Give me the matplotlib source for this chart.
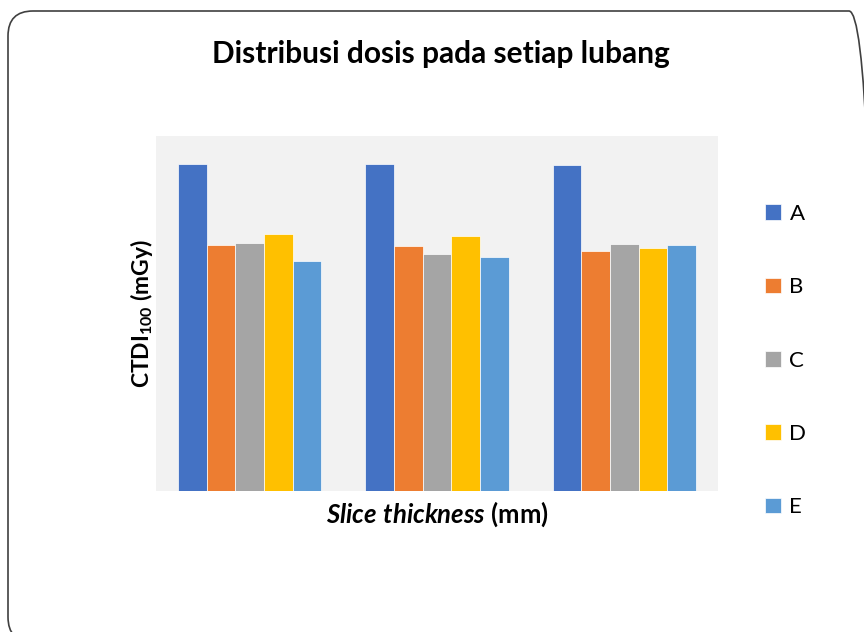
import numpy as np
import matplotlib
matplotlib.use("Agg")
import matplotlib.pyplot as plt
from matplotlib.patches import FancyBboxPatch
from matplotlib.transforms import IdentityTransform

plt.rcParams.update({
    "font.family": "Lato",
    "mathtext.fontset": "custom",
    "mathtext.rm": "Lato",
    "mathtext.bf": "Lato:bold",
    "mathtext.it": "Lato:italic",
    "mathtext.bfit": "Lato:italic:bold",
})

GROUPS = ["1", "2", "3"]  # slice thickness groups (no labels shown)
SERIES = ["A", "B", "C", "D", "E"]
A = [32.7, 32.7, 32.6]
B = [24.6, 24.5, 24.0]
C = [24.8, 23.7, 24.7]
D = [25.7, 25.5, 24.3]
E = [23.0, 23.4, 24.6]
VALUES = [A, B, C, D, E]

COLORS = ["#4472C4", "#ED7D31", "#A5A5A5", "#FFC000", "#5B9BD5"]

fig = plt.figure(figsize=(8.64, 6.32), dpi=100)
ax = fig.add_axes([156 / 864, 1 - 491 / 632, 562 / 864, 355 / 632])
ax.set_facecolor("#F2F2F2")

x = np.arange(len(GROUPS))
w = 0.153
for j, (name, vals) in enumerate(zip(SERIES, VALUES)):
    ax.bar(x + (j - 2) * w, vals, width=w, color=COLORS[j],
           edgecolor="white", linewidth=0.5, label=name)

ax.set_xlim(-0.5, 2.5)
ax.set_ylim(0, 35.5)
ax.set_xticks([])
ax.set_yticks([])
for s in ax.spines.values():
    s.set_visible(False)

ax.set_xlabel(r"$\mathbfit{Slice\ thickness}$ (mm)", fontsize=18.5,
              fontweight="bold", labelpad=6)
ax.set_ylabel(r"CTDI$_{\mathbf{100}}$ (mGy)", fontsize=16.5,
              fontweight="bold", labelpad=1)

fig.text(441 / 864, 1 - 54 / 632, "Distribusi dosis pada setiap lubang",
         fontsize=21.5, fontweight="bold", ha="center", va="center")

handles, labels = ax.get_legend_handles_labels()
fig.legend(handles, labels, loc="upper left",
           bbox_to_anchor=(745 / 864, 1 - 184 / 632),
           frameon=False, fontsize=16, handlelength=0.7, handleheight=0.7,
           handletextpad=0.4, labelspacing=2.4)

border = FancyBboxPatch((8, -10), 866, 631, boxstyle="round,pad=0,rounding_size=25",
                        transform=IdentityTransform(), fill=False,
                        edgecolor="#404040", linewidth=1.2)
fig.add_artist(border)

fig.savefig("out.png", dpi=100)
